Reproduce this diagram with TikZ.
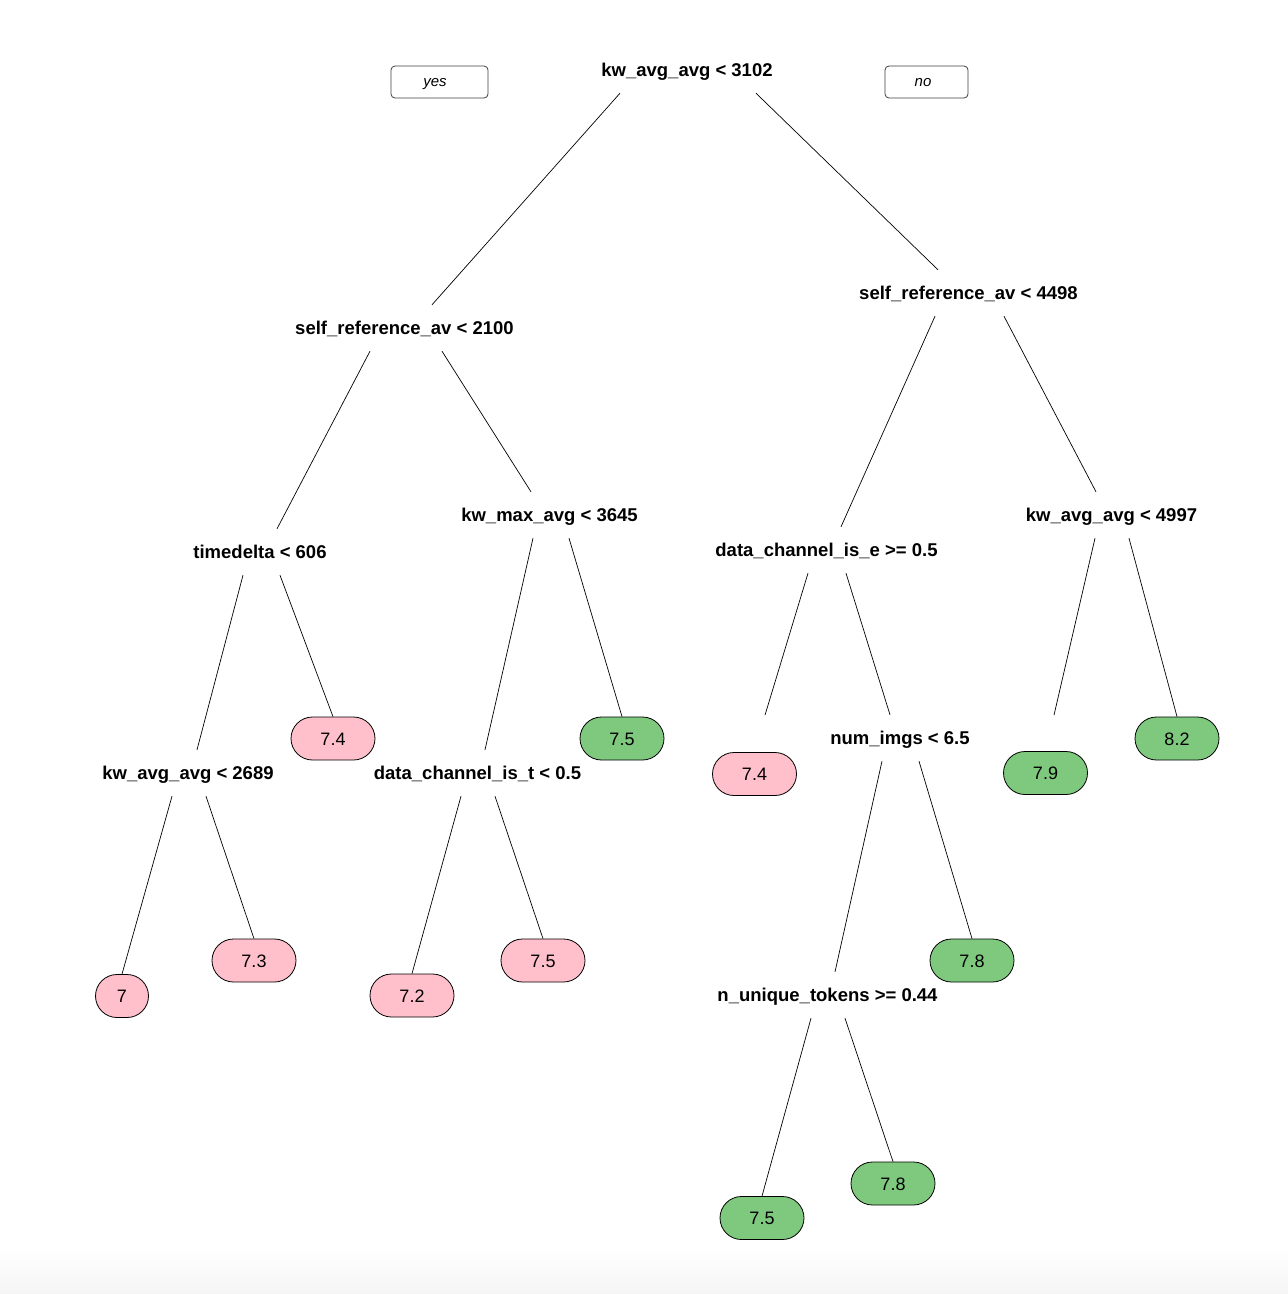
\documentclass[tikz,border=0pt]{standalone}
\usepackage{fontspec}
\setmainfont{Liberation Sans}
\usetikzlibrary{calc}
\definecolor{leafpink}{HTML}{FFC0CB}
\definecolor{leafgreen}{HTML}{7FC97F}
\definecolor{fadegrey}{HTML}{F5F5F5}
\begin{document}
\begin{tikzpicture}[x=1pt,y=-1pt,
  split/.style={font=\fontsize{18.5}{22}\selectfont\bfseries, inner sep=0pt,
    minimum height=46pt, text height=13.5pt, text depth=0pt},
  leaf/.style={draw=black, line width=0.8pt, rounded corners=21.5pt,
    minimum height=43pt, minimum width=84pt, inner sep=0pt,
    font=\fontsize{18}{22}\selectfont, text height=13pt, text depth=0pt},
  pinkleaf/.style={leaf, fill=leafpink},
  greenleaf/.style={leaf, fill=leafgreen},
  edge/.style={line width=0.7pt},
  tag/.style={draw=black!75, rounded corners=4pt, line width=0.8pt,
    minimum height=32pt, inner sep=0pt,
    font=\fontsize{15}{18}\selectfont\itshape, text height=8pt, text depth=0pt}]

% canvas with a faint fade along the bottom edge
\useasboundingbox (0,0) rectangle (1288,1294);
\fill[white] (0,0) rectangle (1288,1294);
\shade[top color=white, bottom color=fadegrey] (0,1248) rectangle (1288,1294);

% branch direction tags (text sits a little left of centre)
\node[tag, minimum width=97pt] (yes) at (439.5,82) {\hspace*{-9pt}yes};
\node[tag, minimum width=83pt] (no) at (926.5,82) {\hspace*{-7pt}no};

% split nodes
\node[split] (root)  at (687,70)    {kw\_avg\_avg < 3102};
\node[split] (srA)   at (404.5,328) {self\_reference\_av < 2100};
\node[split] (srB)   at (968.5,293) {self\_reference\_av < 4498};
\node[split] (td)    at (260,552)   {timedelta < 606};
\node[split] (kwmax) at (549.5,515) {kw\_max\_avg < 3645};
\node[split] (dce)   at (826.5,550) {data\_channel\_is\_e >= 0.5};
\node[split] (kwC)   at (1111.5,515){kw\_avg\_avg < 4997};
\node[split] (kwD)   at (188,773)   {kw\_avg\_avg < 2689};
\node[split] (dct)   at (477.5,773) {data\_channel\_is\_t < 0.5};
\node[split] (imgs)  at (900,738)   {num\_imgs < 6.5};
\node[split] (nut)   at (827.5,995) {n\_unique\_tokens >= 0.44};

% leaves
\node[pinkleaf, minimum width=53pt] (l1) at (122,996)   {7};
\node[pinkleaf]  (l2)  at (254,960.5)  {7.3};
\node[pinkleaf]  (l3)  at (333,738.5)  {7.4};
\node[pinkleaf]  (l4)  at (412,995.5)  {7.2};
\node[pinkleaf]  (l5)  at (543,960.5)  {7.5};
\node[greenleaf] (l6)  at (622,738.5)  {7.5};
\node[pinkleaf]  (l7)  at (754.5,774)  {7.4};
\node[greenleaf] (l8)  at (972,960.5)  {7.8};
\node[greenleaf] (l9)  at (762,1218)   {7.5};
\node[greenleaf] (l10) at (893,1183.5) {7.8};
\node[greenleaf] (l11) at (1045.5,773) {7.9};
\node[greenleaf] (l12) at (1177,738.5) {8.2};

% branches
\draw[edge] ([xshift=-67pt]root.south) -- ([xshift=27.5pt]srA.north);
\draw[edge] ([xshift=69pt]root.south) -- ([xshift=-30.5pt]srB.north);

\draw[edge] ([xshift=-34.5pt]srA.south) -- ([xshift=17pt]td.north);
\draw[edge] ([xshift=37.5pt]srA.south) -- ([xshift=-18.5pt]kwmax.north);

\draw[edge] ([xshift=-17pt]td.south) -- ([xshift=9pt]kwD.north);
\draw[edge] ([xshift=20pt]td.south) -- (l3.north);

\draw[edge] ([xshift=-16pt]kwD.south) -- (l1.north);
\draw[edge] ([xshift=18pt]kwD.south) -- (l2.north);

\draw[edge] ([xshift=-16.5pt]kwmax.south) -- ([xshift=7.5pt]dct.north);
\draw[edge] ([xshift=19.5pt]kwmax.south) -- (l6.north);

\draw[edge] ([xshift=-16.5pt]dct.south) -- (l4.north);
\draw[edge] ([xshift=17.5pt]dct.south) -- (l5.north);

\draw[edge] ([xshift=-33.5pt]srB.south) -- ([xshift=14.5pt]dce.north);
\draw[edge] ([xshift=35.5pt]srB.south) -- ([xshift=-15.5pt]kwC.north);

\draw[edge] ([xshift=-18.5pt]dce.south) -- ([xshift=10.5pt,yshift=37pt]l7.north);
\draw[edge] ([xshift=19.5pt]dce.south) -- ([xshift=-10pt]imgs.north);

\draw[edge] ([xshift=-18pt]imgs.south) -- ([xshift=7.5pt]nut.north);
\draw[edge] ([xshift=19pt]imgs.south) -- (l8.north);

\draw[edge] ([xshift=-16.5pt]nut.south) -- (l9.north);
\draw[edge] ([xshift=17.5pt]nut.south) -- (l10.north);

\draw[edge] ([xshift=-16.5pt]kwC.south) -- ([xshift=8.5pt,yshift=36pt]l11.north);
\draw[edge] ([xshift=17.5pt]kwC.south) -- (l12.north);

\end{tikzpicture}
\end{document}
